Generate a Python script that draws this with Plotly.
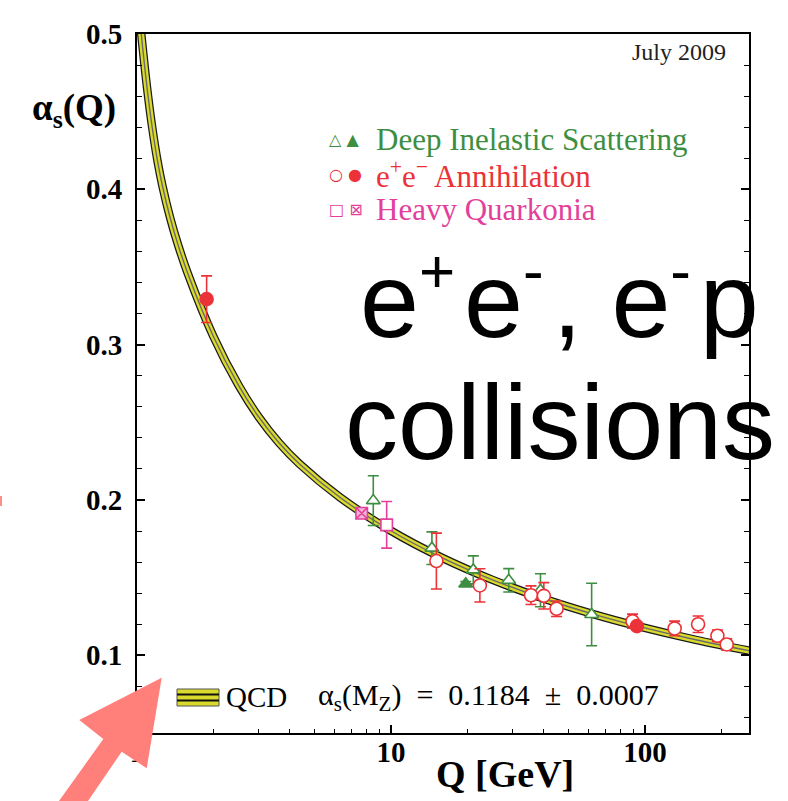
import plotly.graph_objects as go

W, H = 788, 801
L, R, T, B = 137, 749, 34, 733


def px(x):
    return (x - L) / (R - L)


def py(y):
    return (B - y) / (B - T)


# ---- QCD running coupling band (lightly smoothed) ----
qcd_q = [1.020, 1.046, 1.096, 1.148, 1.202, 1.259, 1.349, 1.445, 1.585, 1.995,
         2.512, 3.020, 3.631, 4.365, 6.310, 10.0, 15.85, 25.12, 39.81, 63.10,
         91.2, 158.5, 257.0]
qcd_a = [0.5128, 0.4955, 0.4651, 0.4398, 0.4191, 0.4023, 0.3820, 0.3652, 0.3458, 0.3056,
         0.2738, 0.2533, 0.2367, 0.2232, 0.2016, 0.1802, 0.1629, 0.1486, 0.1366, 0.1264,
         0.1193, 0.1100, 0.1030]

# ---- Deep Inelastic Scattering ----
dis_open_q = [8.52, 14.5, 21.1, 29.1, 38.8, 61.7]
dis_open_a = [0.1996, 0.169, 0.155, 0.1483, 0.1419, 0.1263]
dis_open_e = [0.016, 0.0105, 0.009, 0.0075, 0.0106, 0.0201]
dis_fill_q = [19.7]
dis_fill_a = [0.146]
dis_fill_e = [0.0015]

# ---- e+e- annihilation ----
ee_open_q = [15.1, 22.4, 35.6, 40.0, 44.9, 89.4, 131, 162, 193, 210]
ee_open_a = [0.1607, 0.145, 0.1387, 0.1383, 0.130, 0.122, 0.1173, 0.120, 0.1126, 0.107]
ee_open_e = [0.018, 0.0107, 0.006, 0.0085, 0.005, 0.0045, 0.0047, 0.0053, 0.0037, 0.0037]
ee_fill_q = [1.88, 93.0]
ee_fill_a = [0.3293, 0.1188]
ee_fill_e = [0.015, 0.0015]

# ---- Heavy quarkonia ----
hq_open_q = [9.62]
hq_open_a = [0.184]
hq_open_e = [0.015]
hq_x_q = [7.67]
hq_x_a = [0.1915]
hq_x_e = [0.0015]

y_ticks = [0.1, 0.2, 0.3, 0.4, 0.5]
y_labels = ["0.1", "0.2", "0.3", "0.4", "0.5"]
x_ticks = [1, 10, 100]
x_labels = ["1", "10", "100"]

GREEN = "#3E8E41"
RED = "#EC3239"
PINK = "#E2409B"
YELLOW = "#DADA2C"
SERIF = "Liberation Serif"

fig = go.Figure()

# band: black edges, yellow fill, gray centre line
fig.add_trace(go.Scatter(x=qcd_q, y=qcd_a, mode="lines",
                         line=dict(color="#1a1a1a", width=8.5, shape="spline"),
                         hoverinfo="skip"))
fig.add_trace(go.Scatter(x=qcd_q, y=qcd_a, mode="lines",
                         line=dict(color=YELLOW, width=6, shape="spline"),
                         hoverinfo="skip"))
fig.add_trace(go.Scatter(x=qcd_q, y=qcd_a, mode="lines",
                         line=dict(color="#6a6a6a", width=1.4, shape="spline"),
                         hoverinfo="skip"))


def pts(q, a, e, symbol, fill, color, size):
    fig.add_trace(go.Scatter(
        x=q, y=a, mode="markers",
        marker=dict(symbol=symbol, size=size, color=fill,
                    line=dict(color=color, width=1.6)),
        error_y=dict(type="data", array=e, color=color, thickness=1.6, width=5.5),
    ))


pts(dis_open_q, dis_open_a, dis_open_e, "triangle-up", "white", GREEN, 12)
pts(dis_fill_q, dis_fill_a, dis_fill_e, "triangle-up", GREEN, GREEN, 12)
pts(ee_open_q, ee_open_a, ee_open_e, "circle", "white", RED, 13)
pts(ee_fill_q, ee_fill_a, ee_fill_e, "circle", RED, RED, 13)
pts(hq_open_q, hq_open_a, hq_open_e, "square", "white", PINK, 11.5)
pts(hq_x_q, hq_x_a, hq_x_e, "square-x", "#F3B5D6", PINK, 11.5)

ann = []


def text(x, y, s, size, color="black", family=SERIF, weight="normal",
         xanchor="left", yanchor="middle"):
    ann.append(dict(x=px(x), y=py(y), xref="paper", yref="paper", text=s,
                    showarrow=False, xanchor=xanchor, yanchor=yanchor,
                    font=dict(size=size, color=color, family=family, weight=weight)))


# legend (top)
text(327, 139, "△ ▲", 16, GREEN, "DejaVu Sans")
text(327, 175, "○ ●", 16, RED, "DejaVu Sans")
text(327, 209, "□ ⊠", 16, PINK, "DejaVu Sans")
text(374, 139, "Deep Inelastic Scattering", 31, GREEN)
text(374, 175, "e<sup>+</sup>e<sup>−</sup> Annihilation", 31, RED)
text(374, 209, "Heavy Quarkonia", 31, PINK)

# date
text(728, 52, "July 2009", 24, "#222222", xanchor="right")

# QCD legend (bottom)
text(224, 697, "QCD", 29)
text(316, 697, "α<sub>s</sub>(M<sub>Z</sub>)&nbsp;&nbsp;=&nbsp;&nbsp;0.1184&nbsp;&nbsp;±&nbsp;&nbsp;0.0007", 30)

# axis titles
text(505, 774, "Q [GeV]", 38, weight="bold", xanchor="center")
text(74, 110, "α<sub>s</sub>(Q)", 37, weight="bold", xanchor="center")

# big overlay text
SUP = "<sup><span style='font-size:62px'>%s</span></sup>&#8202;"
text(358, 297, "e" + SUP % "+" + "e" + SUP % "-" + ", e" + SUP % "-" + "p",
     106, "black", "Liberation Sans")
text(343, 422, "collisions", 106, "black", "Liberation Sans")

shapes = []
# QCD legend band symbol
shapes.append(dict(type="rect", xref="paper", yref="paper",
                   x0=px(177), x1=px(219), y0=py(706), y1=py(689),
                   fillcolor=YELLOW, line=dict(color="#555555", width=1)))
for yy in (694.5, 700.5):
    shapes.append(dict(type="line", xref="paper", yref="paper",
                       x0=px(177), x1=px(219), y0=py(yy), y1=py(yy),
                       line=dict(color="#111111", width=1.8)))

# salmon arrow
arrow_pts = [(161.7, 677.7), (79.3, 720), (103.3, 739), (58.3, 802),
             (87.3, 802), (121.7, 751.7), (146.7, 768.3)]
path = "M " + " L ".join(f"{px(a):.5f},{py(b):.5f}" for a, b in arrow_pts) + " Z"
shapes.append(dict(type="path", xref="paper", yref="paper", path=path,
                   fillcolor="#FF7F7A", line=dict(width=0), layer="above"))
# small salmon fleck at the left edge
shapes.append(dict(type="rect", xref="paper", yref="paper",
                   x0=px(0), x1=px(2), y0=py(506), y1=py(496),
                   fillcolor="#FF8F85", line=dict(width=0)))

axis_font = dict(family=SERIF, size=29, color="black", weight="bold")

fig.update_layout(
    width=W, height=H,
    margin=dict(l=L, r=W - R, t=T, b=H - B),
    paper_bgcolor="white", plot_bgcolor="white",
    showlegend=False,
    annotations=ann,
    shapes=shapes,
    xaxis=dict(type="log", range=[0, 2.41], tickvals=x_ticks, ticktext=x_labels,
               ticks="inside", ticklen=8, tickwidth=1.5, tickcolor="black",
               minor=dict(ticks="inside", ticklen=4, tickwidth=1, tickcolor="black", dtick="D1"),
               showline=True, linecolor="black", linewidth=2, mirror=True,
               showgrid=False, zeroline=False, tickfont=axis_font, ticklabelstandoff=-8),
    yaxis=dict(range=[0.05, 0.5], tickvals=y_ticks, ticktext=y_labels,
               ticks="inside", ticklen=8, tickwidth=1.5, tickcolor="black",
               minor=dict(ticks="inside", ticklen=5, tickwidth=1, tickcolor="black",
                          tickvals=[0.06, 0.08, 0.12, 0.14, 0.16, 0.18, 0.22, 0.24, 0.26, 0.28,
                                    0.32, 0.34, 0.36, 0.38, 0.42, 0.44, 0.46, 0.48]),
               showline=True, linecolor="black", linewidth=2, mirror="ticks",
               showgrid=False, zeroline=False, tickfont=axis_font, ticklabelstandoff=7),
)

fig.write_html("out.html",
               config={"displayModeBar": False},
               post_script="document.body.style.margin='0px';"
                           "document.body.style.overflow='hidden';")
